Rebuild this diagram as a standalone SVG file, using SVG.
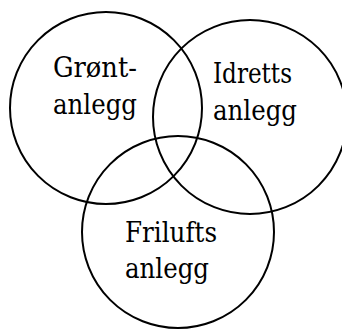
<svg xmlns="http://www.w3.org/2000/svg" width="342" height="329" viewBox="0 0 342 329">
<style>
.c{fill:none;stroke:#000;stroke-width:2}
.t{font-family:"Liberation Serif","Tinos","Times New Roman","DejaVu Serif",serif;font-size:31px;fill:#000}
.d{font-family:"DejaVu Serif",serif;font-size:27px;fill:#000}
</style>
<rect width="342" height="329" fill="#fff"/>
<g id="gront">
<circle class="c" cx="106" cy="108" r="96"/>
<text class="d" x="53" y="77" textLength="84" lengthAdjust="spacingAndGlyphs">Grønt-</text>
<text class="d" x="53" y="114" textLength="84" lengthAdjust="spacingAndGlyphs">anlegg</text>
</g>
<g id="idretts">
<circle class="c" cx="250" cy="117" r="97"/>
<text class="d" x="213" y="83" textLength="79" lengthAdjust="spacingAndGlyphs">Idretts</text>
<text class="d" x="213" y="120" textLength="84" lengthAdjust="spacingAndGlyphs">anlegg</text>
</g>
<g id="frilufts">
<circle class="c" cx="178" cy="232" r="96"/>
<text class="d" x="125" y="242" textLength="92" lengthAdjust="spacingAndGlyphs">Frilufts</text>
<text class="d" x="125" y="278" textLength="84" lengthAdjust="spacingAndGlyphs">anlegg</text>
</g>
<g id="connectors"/>
</svg>
